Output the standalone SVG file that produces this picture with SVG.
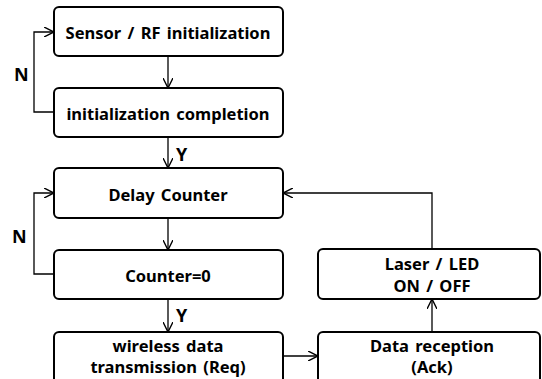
<svg xmlns="http://www.w3.org/2000/svg" width="542" height="379" viewBox="0 0 542 379">
<style>
.box{fill:#fff;stroke:#000;stroke-width:2}
.t{font-family:"Noto Sans","Liberation Sans",sans-serif;font-weight:bold;font-size:16.5px;text-anchor:middle;fill:#000;word-spacing:2px}
.lbl{font-family:"Noto Sans","Liberation Sans",sans-serif;font-weight:bold;font-size:18px;fill:#000}
.c{fill:none;stroke:#000;stroke-width:1.3}
</style>
<defs>
<marker id="ah" viewBox="0 0 10 10" refX="10" refY="5" markerWidth="10" markerHeight="10" markerUnits="userSpaceOnUse" orient="auto">
<path d="M0,0 L10,5 L0,10" fill="none" stroke="#000" stroke-width="1.4"/>
</marker>
</defs>
<rect width="542" height="379" fill="#fff"/>
<g id="connectors">
<path class="c" d="M168,56 V88" marker-end="url(#ah)"/>
<path class="c" d="M54,112 H34 V32 H54" marker-end="url(#ah)"/>
<path class="c" d="M168,137 V168" marker-end="url(#ah)"/>
<path class="c" d="M168,218 V250" marker-end="url(#ah)"/>
<path class="c" d="M54,274 H34 V193 H54" marker-end="url(#ah)"/>
<path class="c" d="M168,299 V332" marker-end="url(#ah)"/>
<path class="c" d="M283,356 H318" marker-end="url(#ah)"/>
<path class="c" d="M432,332 V299" marker-end="url(#ah)"/>
<path class="c" d="M432,249 V193 H283" marker-end="url(#ah)"/>
<text class="lbl" x="14" y="81">N</text>
<text class="lbl" x="176" y="161">Y</text>
<text class="lbl" x="12" y="243">N</text>
<text class="lbl" x="176" y="322">Y</text>
</g>
<g id="n1"><rect class="box" x="54" y="7" width="229" height="49" rx="5"/><text class="t" x="168" y="39">Sensor / RF initialization</text></g>
<g id="n2"><rect class="box" x="54" y="88" width="229" height="49" rx="5"/><text class="t" x="168" y="120">initialization completion</text></g>
<g id="n3"><rect class="box" x="54" y="168" width="229" height="50" rx="5"/><text class="t" x="168" y="201">Delay Counter</text></g>
<g id="n4"><rect class="box" x="54" y="250" width="229" height="49" rx="5"/><text class="t" x="168" y="282">Counter=0</text></g>
<g id="n5"><rect class="box" x="54" y="332" width="229" height="60" rx="5"/><text class="t" x="168" y="352">wireless data</text><text class="t" x="168" y="373">transmission (Req)</text></g>
<g id="n6"><rect class="box" x="318" y="249" width="222" height="50" rx="5"/><text class="t" x="432" y="270">Laser / LED</text><text class="t" x="432" y="292">ON / OFF</text></g>
<g id="n7"><rect class="box" x="318" y="332" width="222" height="60" rx="5"/><text class="t" x="432" y="352">Data reception</text><text class="t" x="432" y="373">(Ack)</text></g>
</svg>
